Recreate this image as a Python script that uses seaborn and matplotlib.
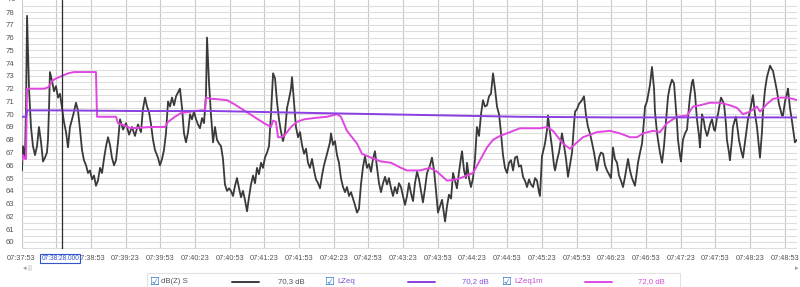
import matplotlib
matplotlib.use("Agg")
import matplotlib.pyplot as plt
import seaborn as sns
import pandas as pd
from matplotlib.lines import Line2D
from matplotlib.patches import Rectangle

# ---------------- data ----------------
# seconds after 07:37:53
dbz_t = [0, 0.4, 1.3, 2.2, 3.0, 3.9, 4.8, 5.6, 6.5, 8.2, 9.9, 11.7, 13.4, 15.1, 16.9, 18.6, 20.3, 22.0, 22.9, 23.8,
         24.6, 26.4, 28.1, 29.8, 31.6, 33.3, 35.0, 36.7, 38.5, 40.2, 41.9, 43.7, 45.4, 47.1, 48.8, 50.6, 52.3, 54.0,
         55.8, 57.5, 59.2, 61.0, 62.7, 64.4, 66.1, 67.9, 69.6, 71.3, 73.1, 74.8, 76.5, 78.2, 80.0, 81.7, 83.4, 85.2,
         87.8, 90.4, 93.0, 95.5, 98.1, 100.7, 103.3, 105.0, 106.8, 108.5, 110.2, 112.0, 113.7, 115.4, 118.0, 119.7,
         121.5, 123.2, 124.9, 126.7, 128.4, 130.1, 131.9, 133.6, 135.3, 137.0, 138.8, 140.5, 142.2, 144.0, 145.7,
         147.4, 149.1, 150.9, 152.6, 154.3, 156.1, 157.8, 159.5, 160.4, 162.1, 163.8, 165.6, 167.3, 169.0, 170.8,
         172.5, 174.2, 175.9, 177.7, 179.4, 181.1, 182.9, 184.6, 186.3, 188.1, 189.8, 191.5, 193.2, 195.0, 196.7,
         198.4, 200.2, 201.9, 203.6, 205.3, 207.1, 208.8, 210.5, 212.3, 214.0, 215.7, 217.5, 219.2, 220.9, 222.6,
         224.4, 226.1, 227.8, 229.6, 231.3, 233.0, 233.9, 235.6, 237.3, 239.1, 240.8, 242.5, 244.3, 246.0, 247.7,
         249.4, 251.2, 252.9, 254.6, 256.4, 258.1, 259.8, 261.5, 263.3, 265.0, 266.7, 267.6, 269.3, 271.0, 272.8,
         274.5, 276.2, 278.0, 279.7, 281.4, 283.2, 284.9, 286.6, 288.3, 290.1, 291.8, 293.5, 295.3, 297.0, 298.7,
         300.4, 302.2, 303.9, 305.6, 307.4, 309.1, 310.8, 312.6, 314.3, 316.0, 317.7, 319.5, 321.2, 322.9, 324.7,
         326.4, 328.1, 329.8, 331.6, 333.3, 335.0, 336.8, 338.5, 340.2, 342.0, 343.7, 345.4, 347.1, 348.9, 350.6,
         353.2, 354.9, 356.7, 358.4, 360.1, 361.9, 363.6, 365.3, 366.2, 367.9, 369.6, 371.4, 373.1, 374.8, 376.5,
         378.3, 380.0, 380.9, 382.6, 384.3, 385.2, 386.9, 388.6, 390.4, 392.1, 393.8, 395.6, 397.3, 399.0, 400.7,
         402.5, 404.2, 405.9, 407.7, 409.4, 411.1, 412.9, 414.6, 416.3, 418.0, 419.8, 421.5, 423.2, 425.0, 426.7,
         428.4, 430.1, 431.9, 433.6, 435.3, 437.1, 438.8, 440.5, 442.3, 444.0, 445.7, 447.4, 448.3, 450.0, 452.6,
         454.4, 455.2, 456.9, 458.7, 460.4, 461.3, 463.0, 464.7, 467.3, 469.0, 470.8, 472.5, 474.2, 476.0, 477.7,
         478.6, 480.3, 482.0, 484.6, 486.3, 488.1, 489.8, 491.5, 493.2, 495.0, 497.6, 499.3, 501.0, 502.8, 504.5,
         506.2, 507.9, 509.7, 511.4, 513.1, 514.9, 516.6, 518.3, 520.1, 521.8, 523.5, 524.4, 526.1, 527.8, 529.6,
         530.4, 532.2, 533.0, 534.8, 536.5, 538.2, 539.1, 540.8, 541.6, 543.4, 545.1, 546.9, 547.7, 549.4, 550.3,
         552.0, 553.8, 555.5, 556.4, 558.1, 559.0, 560.7, 562.4, 564.2, 565.0, 566.7, 567.6, 569.3, 570.2, 571.9,
         573.7, 575.4, 577.1, 578.0, 579.7, 580.6, 582.3, 584.0, 585.8, 586.6, 588.4, 590.1, 590.9, 592.7, 593.5,
         595.3, 597.0, 598.7, 599.6, 601.3, 602.2, 603.9, 604.8, 606.5, 607.4, 609.1, 609.9, 611.7, 612.5, 614.3,
         615.1, 616.9, 617.7, 619.5, 620.3, 622.1, 623.8, 625.5, 626.4, 628.1, 629.8, 631.6, 632.4, 634.2, 635.9,
         637.6, 638.5, 640.2, 641.1, 642.8, 644.5, 646.3, 647.2, 648.9, 649.7, 651.5, 653.2, 654.9, 655.8, 657.5,
         658.4, 660.1, 661.8, 662.7, 664.4, 666.1, 667.9, 668.7, 670.5]
dbz_v = [66.8, 65.6, 67.5, 67.0, 66.6, 70.5, 77.7, 75.0, 72.0, 69.0, 67.5, 66.8, 67.5, 69.0, 67.8, 66.3, 66.6, 67.0, 68.0, 70.5,
         73.3, 72.6, 71.8, 72.2, 71.3, 71.6, 70.5, 69.4, 68.6, 67.4, 69.0, 69.6, 70.2, 70.9, 70.3, 68.8, 67.2, 66.4,
         66.0, 65.4, 65.6, 64.9, 65.2, 64.4, 64.8, 65.8, 65.4, 66.5, 67.5, 68.2, 67.6, 66.6, 66.0, 66.4, 67.8, 69.6,
         68.8, 69.3, 68.4, 69.0, 68.3, 69.2, 68.6, 70.4, 71.3, 70.6, 70.2, 69.2, 68.0, 67.2, 66.6, 66.0,
         66.5, 67.2, 68.5, 71.0, 70.6, 71.3, 70.7, 71.4, 71.7, 72.0, 70.5, 68.5, 67.8, 68.6, 70.0,
         69.6, 70.2, 69.6, 69.2, 68.9, 69.7, 69.3, 71.5, 76.0, 72.5, 70.0, 67.8, 69.0, 68.0, 67.7,
         67.5, 66.5, 64.5, 64.0, 64.2, 64.0, 63.6, 64.4, 65.0, 64.2, 63.5, 64.0, 63.3, 62.4, 63.5,
         64.5, 65.2, 64.6, 65.8, 65.3, 66.2, 65.8, 66.6, 67.0, 67.5, 70.0, 73.2, 72.8, 71.0, 69.6,
         68.6, 67.9, 68.6, 70.5, 71.2, 72.0, 72.9, 71.0, 69.0, 68.2, 68.6, 67.6, 66.9, 67.3, 66.2,
         65.8, 66.5, 65.6, 64.9, 64.6, 64.2, 65.2, 66.0, 66.6, 67.2, 67.8, 68.5, 67.6, 67.9, 66.8,
         66.2, 65.0, 64.3, 63.9, 64.3, 63.6, 63.9, 63.4, 62.9, 62.3, 62.6, 64.5, 65.9, 66.7, 65.8,
         66.1, 65.5, 66.5, 67.1, 65.8, 64.6, 63.9, 64.6, 65.1, 64.5, 65.0, 64.2, 63.6, 64.3, 63.8,
         64.6, 64.3, 63.6, 62.9, 63.6, 64.6, 63.8, 63.2, 64.6, 65.5, 64.9, 64.0, 63.1, 64.2, 65.4,
         66.0, 66.6, 65.6, 64.0, 62.3, 62.8, 63.3, 62.2, 61.6, 62.8, 63.7, 63.4, 65.4, 64.8, 64.2,
         65.5, 66.6, 67.1, 65.6, 65.0, 66.2, 65.0, 64.3, 65.0, 66.5, 69.0, 68.3, 70.0, 71.1, 70.6,
         70.7, 71.4, 71.6, 73.2, 72.0, 70.6, 70.0, 68.5, 66.8, 65.8, 65.4, 66.2, 66.4, 65.6, 66.6,
         66.7, 65.9, 66.0, 65.1, 64.8, 64.3, 64.9, 64.5, 64.3, 65.0, 64.8, 63.9, 63.6, 66.7, 67.7,
         68.8, 69.9, 68.6, 67.4, 66.0, 65.6, 66.4, 67.0, 68.5, 67.6, 66.5, 65.1, 66.0, 67.0, 69.2,
         70.2, 70.4, 70.8, 71.1, 71.4, 69.9, 69.0, 68.5, 67.8, 67.0, 65.6, 66.6, 67.0, 66.9, 66.0,
         65.6, 65.3, 65.0, 67.4, 66.5, 66.2, 65.2, 64.8, 64.3, 65.1, 66.0, 66.5, 65.6, 65.0, 64.6,
         64.4, 65.6, 66.2, 67.0, 67.7, 69.5, 70.6, 71.0, 71.4, 72.3, 73.7, 72.0, 70.2, 68.6, 68.0,
         67.0, 66.2, 67.5, 68.5, 70.4, 71.4, 72.2, 72.7, 72.4, 71.4, 69.4, 68.0, 66.8, 66.3, 68.0,
         68.5, 68.8, 70.6, 71.4, 72.5, 72.7, 71.6, 69.6, 68.3, 67.4, 70.0, 69.4, 68.9, 68.3, 68.5,
         69.2, 69.6, 68.8, 68.7, 69.7, 70.0, 70.9, 71.3, 71.0, 70.8, 69.2, 68.0, 67.0, 66.4, 68.0,
         69.0, 69.6, 69.8, 68.6, 68.0, 67.2, 66.6, 67.8, 68.5, 69.6, 70.2, 71.1, 71.5, 70.0, 69.0,
         67.4, 66.6, 68.6, 70.2, 71.9, 72.9, 73.5, 73.8, 73.5, 73.4, 72.6, 71.8, 70.8, 70.5, 69.9,
         69.9, 71.0, 71.6, 72.0, 70.5, 69.5, 68.3, 67.8, 68.0]

lzeq_t = [0, 3.9, 4.8, 30, 100, 167, 250, 340, 430, 510, 600, 670.5]
lzeq_v = [69.8, 69.8, 70.3, 70.3, 70.25, 70.25, 70.1, 69.95, 69.8, 69.75, 69.75, 69.75]

lzeq1m_t = [0, 1.3, 3.0, 3.9, 4.8, 19.5, 22.9, 24.6, 26.4, 29.8, 35.0, 40.2, 45.4, 64.4, 65.3, 81.7, 83.4, 89.5,
            94.7, 112.0, 124.1, 126.7, 132.7, 138.0, 146.5, 155.2, 158.7, 159.5, 163.8, 166.4, 177.7, 183.7,
            192.4, 201.0, 209.7, 215.7, 217.5, 220.0, 221.8, 224.4, 227.0, 233.0, 238.2, 244.3, 252.9, 264.1,
            272.8, 276.2, 281.4, 290.1, 294.4, 302.2, 310.8, 319.5, 328.1, 333.3, 339.3, 344.5, 353.2, 359.3,
            367.9, 376.5, 385.2, 390.4, 396.4, 402.5, 407.7, 413.7, 422.4, 431.0, 439.7, 448.3, 454.4, 459.5,
            468.2, 474.2, 480.3, 485.5, 491.5, 497.6, 508.8, 517.5, 526.1, 532.2, 537.3, 546.0, 552.0, 558.1,
            566.7, 575.4, 580.6, 586.6, 595.3, 603.9, 612.5, 618.6, 623.8, 629.8, 635.9, 638.5, 644.5, 649.7,
            655.8, 661.8, 667.0, 670.5]
lzeq1m_v = [66.3, 66.8, 66.5, 66.5, 72.0, 72.0, 72.1, 72.3, 72.6, 72.8, 73.0, 73.2, 73.3, 73.3, 69.8, 69.8, 69.3, 69.1,
            68.9, 69.0, 69.0, 69.4, 69.8, 70.1, 70.2, 70.3, 70.3, 71.3, 71.2, 71.2, 71.1, 70.8,
            70.3, 69.8, 69.3, 69.0, 69.5, 69.4, 68.2, 68.2, 68.3, 69.0, 69.4, 69.6, 69.7, 69.8,
            70.0, 69.8, 68.7, 67.7, 66.9, 66.6, 66.3, 66.2, 65.8, 65.6, 65.6, 65.6, 65.8, 65.5,
            64.8, 64.9, 65.2, 65.4, 66.4, 67.4, 68.0, 68.3, 68.6, 68.9, 68.9, 68.9, 69.0, 68.7,
            67.7, 67.3, 67.8, 68.2, 68.4, 68.6, 68.7, 68.5, 68.2, 68.2, 68.5, 68.7, 68.6, 69.3,
            69.8, 69.9, 70.6, 70.7, 70.9, 70.9, 70.7, 70.5, 70.0, 70.2, 70.6, 70.2, 70.8, 71.2,
            71.3, 71.3, 71.2, 71.1]

x_ticks = list(range(0, 661, 30))
x_tick_labels = ["07:37:53", "07:38:23", "07:38:53", "07:39:23", "07:39:53", "07:40:23", "07:40:53", "07:41:23",
                 "07:41:53", "07:42:23", "07:42:53", "07:43:23", "07:43:53", "07:44:23", "07:44:53", "07:45:23",
                 "07:45:53", "07:46:23", "07:46:53", "07:47:23", "07:47:53", "07:48:23", "07:48:53"]
y_ticks = list(range(60, 79))
cursor_t = 35
cursor_label = "07:38:28.000"
legend_names = ["dB(Z) S", "LZeq", "LZeq1m"]
legend_values = ["70,3 dB", "70,2 dB", "72,0 dB"]

C_DBZ = "#3a3a3a"
C_LZEQ = "#8a3fe0"
C_LZEQ1M = "#e046e0"

# ---------------- figure ----------------
sns.set_style("white")
plt.rcParams["font.family"] = ["Liberation Sans", "DejaVu Sans"]
FS = 5.6
FSX = 5.3

fig = plt.figure(figsize=(8.0, 2.87), dpi=100)
ax = fig.add_axes([21.5 / 800, 1 - 249 / 287, 775.5 / 800, 249 / 287])

df_dbz = pd.DataFrame({"t": dbz_t, "v": dbz_v})
df_lzeq = pd.DataFrame({"t": lzeq_t, "v": lzeq_v})
df_1m = pd.DataFrame({"t": lzeq1m_t, "v": lzeq1m_v})

sns.lineplot(data=df_dbz, x="t", y="v", ax=ax, color=C_DBZ, lw=1.3, estimator=None, sort=False, zorder=3)
sns.lineplot(data=df_1m, x="t", y="v", ax=ax, color=C_LZEQ1M, lw=1.4, estimator=None, sort=False, zorder=4)
sns.lineplot(data=df_lzeq, x="t", y="v", ax=ax, color=C_LZEQ, lw=1.4, estimator=None, sort=False, zorder=5)

ax.set_xlim(0, 670.5)
ax.set_ylim(59.45, 78.94)
ax.set_xlabel("")
ax.set_ylabel("")
for s in ax.spines.values():
    s.set_visible(False)

# grid
ax.set_yticks(y_ticks)
ax.set_yticks([y + 0.5 for y in range(59, 79)], minor=True)
ax.set_xticks(x_ticks)
ax.grid(True, axis="y", which="both", color="#dddddd", lw=0.8, zorder=0)
ax.grid(True, axis="x", which="major", color="#c8c8c8", lw=0.8, zorder=0)
ax.set_axisbelow(True)

labels = list(x_tick_labels)
labels[1] = ""
ax.set_xticklabels(labels, fontsize=FSX, color="#555555")
ax.set_yticklabels([str(y) for y in y_ticks], fontsize=FS, color="#555555")
ax.tick_params(axis="both", which="both", length=0)
ax.tick_params(axis="x", pad=4)
ax.tick_params(axis="y", pad=5)
ax.text(-0.0065, 79, "79", transform=ax.get_yaxis_transform(), ha="right", va="center",
        fontsize=FS, color="#555555", clip_on=False)

# cursor
ax.axvline(cursor_t, color="#2b2b2b", lw=0.9, zorder=6)
ax.annotate(cursor_label, xy=(cursor_t, 0), xycoords=("data", "axes fraction"),
            xytext=(-1.2, -6.6), textcoords="offset points", ha="center", va="center",
            fontsize=4.7, color="#2f4fd0", annotation_clip=False,
            bbox=dict(boxstyle="square,pad=0.15", fc="white", ec="#3355cc", lw=0.8), zorder=7)

# scroll artifacts
fig.text(25 / 800, 1 - 268 / 287, "◂", fontsize=5, color="#999999", ha="center", va="center",
         family="DejaVu Sans")
fig.patches.append(Rectangle((28 / 800, 1 - 271 / 287), 4 / 800, 6 / 287, transform=fig.transFigure,
                             fc="#e4e4e4", ec="none"))
fig.text(797 / 800, 1 - 268 / 287, "▸", fontsize=5, color="#999999", ha="center", va="center",
         family="DejaVu Sans")

# legend box
fig.patches.append(Rectangle((147 / 800, -0.01), (680 - 147) / 800, 1 - 273 / 287 + 0.01,
                             transform=fig.transFigure, fc="white", ec="#e2e2e2", lw=0.8))
ly = 1 - 281.5 / 287
check_x = [154.5, 329.5, 506.5]
name_x = [161, 337, 514]
line_x = [(232, 259), (408, 435), (585, 612)]
val_x = [278, 462, 638]
colors = [C_DBZ, C_LZEQ, C_LZEQ1M]
name_colors = ["#555555", "#7a4fd0", "#c24fd0"]
val_colors = ["#555555", "#8a4fe0", "#d050d8"]
for i in range(3):
    fig.text(check_x[i] / 800, ly, "☑", fontsize=8, color="#2a78c8", ha="center", va="center",
             family="DejaVu Sans")
    fig.text(name_x[i] / 800, ly, legend_names[i], fontsize=FS, color=name_colors[i], ha="left", va="center")
    fig.lines.append(Line2D([line_x[i][0] / 800, line_x[i][1] / 800], [ly, ly], transform=fig.transFigure,
                            color=colors[i], lw=1.4))
    fig.text(val_x[i] / 800, ly, legend_values[i], fontsize=FS, color=val_colors[i], ha="left", va="center")

fig.savefig("out.png", dpi=100)
